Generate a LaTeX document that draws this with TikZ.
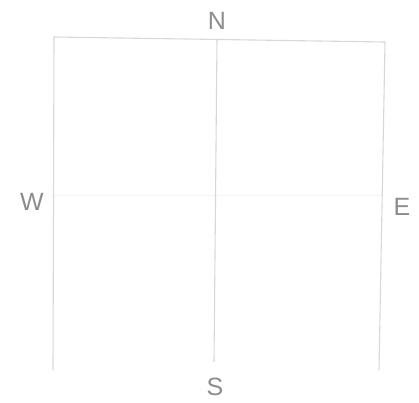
\documentclass[tikz,border=0pt]{standalone}
\usepackage{fontspec}
\setmainfont{Liberation Sans}
\definecolor{linegray}{HTML}{D8D8D8}
\definecolor{faintgray}{HTML}{F3F3F3}
\definecolor{textgray}{HTML}{8C8C8C}
\begin{document}
\begin{tikzpicture}[x=1pt,y=-1pt,
  frame/.style={draw=linegray,line width=1.1pt},
  faint/.style={draw=faintgray,line width=1pt},
  lbl/.style={text=textgray,font=\fontsize{25}{27}\selectfont,inner sep=0pt}]
\useasboundingbox (0,0) rectangle (419,402);
\coordinate (tl) at (54,37);
\coordinate (tr) at (385,42);
\coordinate (bl) at (53,370);
\coordinate (br) at (379,370);
\coordinate (tc) at (217,39);
\coordinate (bc) at (214,362);
\coordinate (ml) at (54,195);
\coordinate (mr) at (382,195);
\node[lbl] (N) at (217,21) {N};
\node[lbl] (W) at (32,202) {W};
\node[lbl] (E) at (402,207) {E};
\node[lbl] (S) at (215,387) {S};
\draw[faint] (ml) -- (mr);
\draw[frame] (bl) -- (tl) -- (tr) -- (br);
\draw[frame] (tc) -- (bc);
\end{tikzpicture}
\end{document}
